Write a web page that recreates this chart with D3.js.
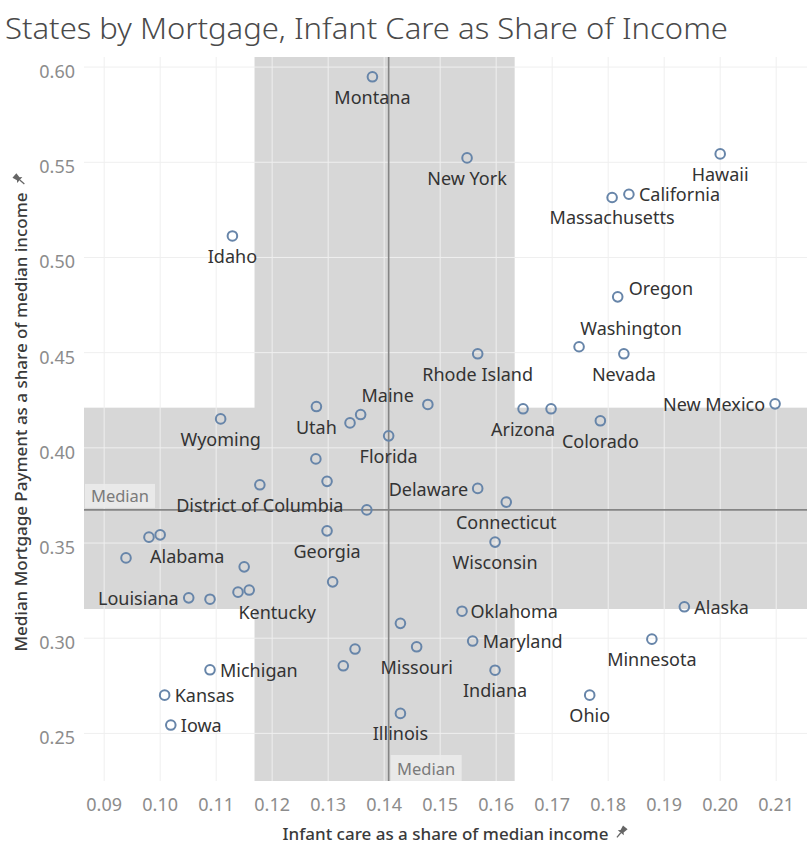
<!DOCTYPE html>
<html>
<head>
<meta charset="utf-8">
<script src="https://cdn.jsdelivr.net/npm/d3@7"></script>
<style>
  body { margin: 0; background: #fff; }
  svg { display: block; font-family: "Noto Sans", "Open Sans", sans-serif; }
</style>
</head>
<body>
<div id="chart"></div>
<script>
// state names (null = mark shown without a label)
var states = [
    "Montana", "New York", "Hawaii", "California", "Massachusetts", "Idaho",
    "Oregon", "Washington", "Nevada", "Rhode Island", "Maine", "New Mexico",
    "Arizona", null, "Colorado", "Wyoming", "Utah", null, null, "Florida",
    "Delaware", "Connecticut", "Wisconsin", "Oklahoma", "Alaska", "Maryland",
    "Minnesota", "Indiana", "Ohio", null, "Missouri", "Illinois", null, null,
    null, "Georgia", null, null, null, "District of Columbia", null, null,
    "Alabama", null, null, "Kentucky", "Louisiana", null, "Michigan", "Kansas", "Iowa"
];

// infant care as a share of median income
var infantCare = [
    0.1379, 0.1548, 0.2000, 0.1837, 0.1807, 0.1129,
    0.1817, 0.1748, 0.1828, 0.1567, 0.1478, 0.2098,
    0.1648, 0.1698, 0.1786, 0.1108, 0.1279, 0.1339, 0.1358, 0.1408,
    0.1567, 0.1618, 0.1598, 0.1539, 0.1936, 0.1558,
    0.1878, 0.1598, 0.1767, 0.1429, 0.1458, 0.1429, 0.1348, 0.1327,
    0.1308, 0.1298, 0.1298, 0.1278, 0.1369, 0.1178, 0.0980, 0.1000,
    0.0939, 0.1150, 0.1139, 0.1159, 0.1051, 0.1089, 0.1089, 0.1008, 0.1019
];

// median mortgage payment as a share of median income
var mortgage = [
    0.5949, 0.5523, 0.5544, 0.5332, 0.5315, 0.5113,
    0.4793, 0.4531, 0.4494, 0.4494, 0.4228, 0.4231,
    0.4205, 0.4205, 0.4142, 0.4152, 0.4217, 0.4131, 0.4175, 0.4063,
    0.3787, 0.3715, 0.3505, 0.3142, 0.3165, 0.2985,
    0.2995, 0.2832, 0.2701, 0.3078, 0.2955, 0.2605, 0.2943, 0.2855,
    0.3296, 0.3564, 0.3824, 0.3942, 0.3674, 0.3806, 0.3531, 0.3543,
    0.3422, 0.3375, 0.3242, 0.3253, 0.3212, 0.3205, 0.2834, 0.2701, 0.2544
];

var xTicks = [0.09, 0.10, 0.11, 0.12, 0.13, 0.14, 0.15, 0.16, 0.17, 0.18, 0.19, 0.20, 0.21];
var yTicks = [0.25, 0.30, 0.35, 0.40, 0.45, 0.50, 0.55, 0.60];

// label placement: [text-anchor, dx, dy]
var below = ["middle", 0, 20];
var right = ["start", 10, 0];
var left = ["end", -10, 0];
var labelPlace = {
    "Montana": below, "New York": below, "Hawaii": below, "Massachusetts": below,
    "Idaho": below, "Rhode Island": below, "Arizona": below, "Colorado": below,
    "Utah": below, "Wyoming": below, "Florida": below, "Connecticut": below,
    "Wisconsin": below, "Minnesota": below, "Indiana": below, "Ohio": below,
    "Missouri": below, "Illinois": below, "Georgia": below,
    "District of Columbia": below, "Nevada": below,
    "California": right, "Oklahoma": ["start", 8.5, 0], "Alaska": right,
    "Maryland": right, "Michigan": right, "Kansas": right, "Iowa": right,
    "Oregon": ["start", 11, -9],
    "New Mexico": left, "Delaware": ["end", -9.5, 1], "Louisiana": left,
    "Maine": ["end", -14, -9],
    "Washington": ["middle", 52, -19],
    "Alabama": ["start", 24, -1.5],
    "Kentucky": ["middle", 28, 22]
};

var data = states.map((s, i) => ({ state: s, care: infantCare[i], mortgage: mortgage[i] }));

var margin = { top: 57, right: 0, bottom: 71, left: 84 },
    width = 807 - margin.left - margin.right,
    height = 852 - margin.top - margin.bottom;

var svg = d3.select("#chart").append("svg")
    .attr("width", 807)
    .attr("height", 852);

// title
svg.append("text")
    .attr("x", 5)
    .attr("y", 39)
    .attr("textLength", 723)
    .attr("lengthAdjust", "spacingAndGlyphs")
    .style("font-size", "29px")
    .style("font-weight", 300)
    .style("fill", "#4a4a4a")
    .text("States by Mortgage, Infant Care as Share of Income");

var g = svg.append("g")
    .attr("transform", "translate(" + margin.left + "," + margin.top + ")");

var x = d3.scaleLinear()
    .domain([0.0864, 0.2155])
    .range([0, width]);

var y = d3.scaleLinear()
    .domain([0.225, 0.6053])
    .range([height, 0]);

g.append("clipPath").attr("id", "plot-clip")
    .append("rect").attr("width", width).attr("height", height);

var plot = g.append("g").attr("clip-path", "url(#plot-clip)");

// interquartile reference bands
var xs = infantCare.slice().sort(d3.ascending),
    ys = mortgage.slice().sort(d3.ascending);
var xq1 = d3.quantileSorted(xs, 0.25), xq3 = d3.quantileSorted(xs, 0.75);
var yq1 = d3.quantileSorted(ys, 0.25), yq3 = d3.quantileSorted(ys, 0.75);
var xMed = d3.median(infantCare), yMed = d3.median(mortgage);

plot.append("rect")
    .attr("x", x(xq1)).attr("y", 0)
    .attr("width", x(xq3) - x(xq1)).attr("height", height)
    .attr("fill", "#d7d7d7");
plot.append("rect")
    .attr("x", 0).attr("y", y(yq3))
    .attr("width", width).attr("height", y(yq1) - y(yq3))
    .attr("fill", "#d7d7d7");

// gridlines
plot.selectAll(".vgrid")
    .data(xTicks)
    .enter().append("line")
    .attr("x1", d => x(d)).attr("x2", d => x(d))
    .attr("y1", 0).attr("y2", height)
    .attr("stroke", "#efefef")
    .attr("stroke-width", 1);
plot.selectAll(".hgrid")
    .data(yTicks)
    .enter().append("line")
    .attr("x1", 0).attr("x2", width)
    .attr("y1", d => y(d)).attr("y2", d => y(d))
    .attr("stroke", "#efefef")
    .attr("stroke-width", 1);

// median lines
plot.append("line")
    .attr("x1", x(xMed)).attr("x2", x(xMed))
    .attr("y1", 0).attr("y2", height)
    .attr("stroke", "#858585").attr("stroke-width", 1.6);
plot.append("line")
    .attr("x1", 0).attr("x2", width)
    .attr("y1", y(yMed)).attr("y2", y(yMed))
    .attr("stroke", "#858585").attr("stroke-width", 1.6);

// median labels
plot.append("rect")
    .attr("x", 1).attr("y", y(yMed) - 26)
    .attr("width", 70).attr("height", 24)
    .attr("fill", "#ebebeb").attr("opacity", 0.9);
plot.append("text")
    .attr("x", 36).attr("y", y(yMed) - 14)
    .attr("text-anchor", "middle")
    .attr("dominant-baseline", "central")
    .style("font-size", "16.5px")
    .style("fill", "#7a7a7a")
    .text("Median");

plot.append("rect")
    .attr("x", x(xMed) + 2).attr("y", height - 26)
    .attr("width", 71).attr("height", 26)
    .attr("fill", "#ebebeb").attr("opacity", 0.9);
plot.append("text")
    .attr("x", x(xMed) + 37.5).attr("y", height - 13)
    .attr("text-anchor", "middle")
    .attr("dominant-baseline", "central")
    .style("font-size", "16.5px")
    .style("fill", "#7a7a7a")
    .text("Median");

// points
plot.selectAll(".dot")
    .data(data)
    .enter().append("circle")
    .attr("class", "dot")
    .attr("cx", d => x(d.care))
    .attr("cy", d => y(d.mortgage))
    .attr("r", 4.8)
    .attr("fill", "none")
    .attr("stroke", "#6785a9")
    .attr("stroke-width", 2);

// labels
plot.selectAll(".name")
    .data(data.filter(d => d.state))
    .enter().append("text")
    .attr("class", "name")
    .attr("x", d => x(d.care) + labelPlace[d.state][1])
    .attr("y", d => y(d.mortgage) + labelPlace[d.state][2])
    .attr("text-anchor", d => labelPlace[d.state][0])
    .attr("dominant-baseline", "central")
    .style("font-size", "18px")
    .style("fill", "#333")
    .text(d => d.state);

// x tick labels
g.selectAll(".xtick")
    .data(xTicks)
    .enter().append("text")
    .attr("x", d => x(d))
    .attr("y", height + 23)
    .attr("text-anchor", "middle")
    .attr("dominant-baseline", "central")
    .style("font-size", "18px")
    .style("fill", "#8c8c8c")
    .text(d => d3.format(".2f")(d));

// y tick labels
g.selectAll(".ytick")
    .data(yTicks)
    .enter().append("text")
    .attr("x", -9)
    .attr("y", d => y(d) + 4)
    .attr("text-anchor", "end")
    .attr("dominant-baseline", "central")
    .style("font-size", "18px")
    .style("fill", "#8c8c8c")
    .text(d => d3.format(".2f")(d));

// pushpin icon
function pin(sel, px, py, rot) {
    var p = sel.append("g")
        .attr("transform", "translate(" + px + "," + py + ") rotate(" + rot + ")")
        .attr("fill", "#666");
    p.append("path").attr("d", "M-3,-6 L3,-6 L2,-1 L4,1 L-4,1 L-2,-1 Z");
    p.append("line").attr("x1", 0).attr("y1", 1).attr("x2", 0).attr("y2", 7)
        .attr("stroke", "#666").attr("stroke-width", 1.3);
}

// x axis title
var xTitle = g.append("text")
    .attr("x", width / 2)
    .attr("y", height + 52)
    .attr("text-anchor", "middle")
    .attr("dominant-baseline", "central")
    .style("font-size", "17px")
    .style("font-weight", 500)
    .style("fill", "#3a3a3a")
    .text("Infant care as a share of median income");
var xLen = xTitle.node().getComputedTextLength();
pin(g, width / 2 + xLen / 2 + 13, height + 51, 40);

// y axis title
var yTitle = g.append("text")
    .attr("transform", "translate(" + (-64) + "," + (height / 2 + 3) + ") rotate(-90)")
    .attr("text-anchor", "middle")
    .attr("dominant-baseline", "central")
    .style("font-size", "17px")
    .style("font-weight", 500)
    .style("fill", "#3a3a3a")
    .text("Median Mortgage Payment as a share of median income");
var yLen = yTitle.node().getComputedTextLength();
pin(g, -65, height / 2 + 3 - yLen / 2 - 13, -50);
</script>
</body>
</html>
